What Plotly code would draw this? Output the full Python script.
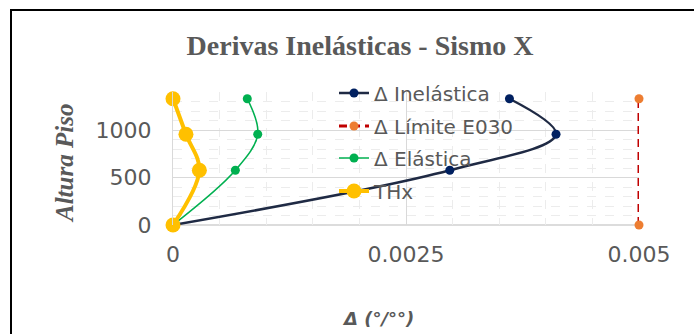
import plotly.graph_objects as go

# Data
altura = [0, 576, 955, 1329]
inelastica = [0, 0.00297, 0.00411, 0.00361]
limite_x = [0.005, 0.005]
limite_y = [0, 1329]
elastica = [0, 0.000669, 0.000909, 0.000797]
thx = [0, 0.000283, 0.000139, 0.0]

W, H = 694, 334
L, R, T, B = 173, 55, 92, 109
pw = W - L - R
ph = H - T - B

def px_x(p):
    return (p - L) / pw

def px_y(p):
    return (H - B - p) / ph

gray = "#595959"
leg_font = dict(family="DejaVu Sans", size=20, color=gray)

fig = go.Figure()
fig.add_trace(go.Scatter(
    x=inelastica, y=altura, name="Δ Inelástica", mode="lines+markers",
    line=dict(color="#1f2a44", width=2.5, shape="spline", smoothing=1),
    marker=dict(color="#002060", size=9), legend="legend", cliponaxis=False))
fig.add_trace(go.Scatter(
    x=limite_x, y=limite_y, name="Δ Límite E030", mode="lines+markers",
    line=dict(color="#c00000", width=3, dash="8px,5px"),
    marker=dict(color="#ed7d31", size=9), legend="legend2", cliponaxis=False))
fig.add_trace(go.Scatter(
    x=elastica, y=altura, name="Δ Elástica", mode="lines+markers",
    line=dict(color="#00b050", width=1.6, shape="spline", smoothing=1),
    marker=dict(color="#00b050", size=9), legend="legend3", cliponaxis=False))
fig.add_trace(go.Scatter(
    x=thx, y=altura, name="THx", mode="lines+markers",
    line=dict(color="#ffc000", width=4, shape="spline", smoothing=1),
    marker=dict(color="#ffc000", size=15), legend="legend4", cliponaxis=False))

def leg(yc):
    return dict(x=px_x(334), y=px_y(yc), xanchor="left", yanchor="middle",
                bgcolor="rgba(0,0,0,0)", font=leg_font, itemwidth=30)

fig.update_layout(
    width=W, height=H,
    margin=dict(l=L, r=R, t=T, b=B),
    paper_bgcolor="white", plot_bgcolor="white",
    showlegend=True,
    legend=leg(93), legend2=leg(126), legend3=leg(158), legend4=leg(191),
    title=dict(text="<b>Derivas Inelásticas - Sismo X</b>",
               font=dict(family="Liberation Serif", size=28, color=gray),
               x=360 / W, xanchor="center", xref="container",
               y=1 - 45 / H, yanchor="middle"),
    xaxis=dict(range=[0, 0.005], dtick=0.0025, tick0=0,
               showgrid=True, gridcolor="#d9d9d9", gridwidth=1,
               minor=dict(dtick=0.0005, showgrid=True, gridcolor="#ececec", griddash="dash"),
               zeroline=False, showline=False,
               tickfont=dict(family="DejaVu Sans", size=22, color=gray),
               ticks="", ticklabelstandoff=14, fixedrange=True),
    yaxis=dict(range=[0, 1400], dtick=500, tick0=0,
               showgrid=True, gridcolor="#d9d9d9", gridwidth=1,
               minor=dict(dtick=100, showgrid=True, gridcolor="#ececec", griddash="dash"),
               zeroline=False, showline=True, linecolor="#d9d9d9", linewidth=1,
               tickfont=dict(family="DejaVu Sans", size=22, color=gray),
               ticks="", ticklabelstandoff=16),
    annotations=[
        dict(text="<b><i>Altura Piso</i></b>", xref="paper", yref="paper",
             x=px_x(64), y=px_y(164), textangle=-90, showarrow=False,
             font=dict(family="Liberation Serif", size=25, color=gray),
             xanchor="center", yanchor="middle"),
        dict(text="<b><i>Δ (°/°°)</i></b>", xref="paper", yref="paper",
             x=px_x(378), y=px_y(318), showarrow=False,
             font=dict(family="DejaVu Sans", size=18, color=gray),
             xanchor="center", yanchor="middle"),
    ],
    shapes=[
        dict(type="rect", xref="paper", yref="paper",
             x0=px_x(11), y0=px_y(H + 10), x1=px_x(W + 10), y1=px_y(10),
             line=dict(color="black", width=2), fillcolor="rgba(0,0,0,0)", layer="below"),
        dict(type="line", xref="paper", yref="paper", x0=0, x1=1, y0=0, y1=0,
             line=dict(color="#d0d0d0", width=1.5), layer="below"),
    ],
)

fig.write_html("out.html")
